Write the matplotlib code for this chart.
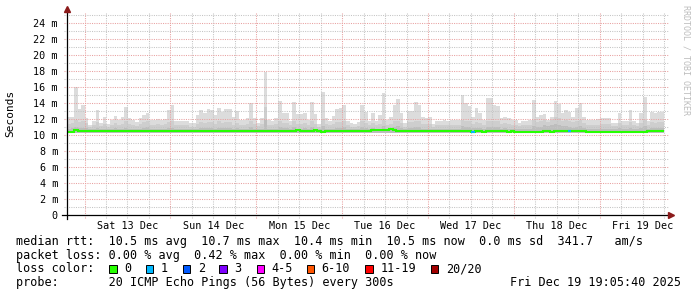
import matplotlib
matplotlib.use("Agg")
import matplotlib.pyplot as plt
import matplotlib.dates as mdates
from matplotlib.patches import Rectangle
import numpy as np
import pandas as pd

# ---------------- data ----------------
start = pd.Timestamp("2025-12-12 19:05:40")
end = pd.Timestamp("2025-12-19 19:05:40")

smoke_floor = 10.3  # ms

smoke_max = [
    12.3, 12.3, 16.0, 13.2, 13.8, 12.1, 11.3, 11.8, 13.1, 11.5,
    12.3, 11.4, 11.9, 12.4, 11.9, 12.2, 13.5, 12.1, 11.9, 11.6,
    12.1, 12.5, 12.8, 11.9, 11.9, 12.0, 11.9, 12.0, 13.1, 13.75,
    11.8, 11.8, 11.8, 11.8, 11.5, 11.5, 12.5, 13.1, 12.7, 13.2,
    13.1, 12.5, 13.4, 12.9, 13.3, 13.3, 12.3, 13.0, 11.9, 11.9,
    12.1, 14.0, 12.1, 11.5, 12.1, 17.9, 11.9, 11.8, 12.1, 14.2,
    12.8, 12.8, 11.8, 14.1, 12.6, 12.6, 12.8, 11.9, 14.1, 12.6,
    11.4, 15.4, 12.1, 11.7, 12.4, 13.2, 13.4, 13.7, 11.7, 11.5,
    11.4, 11.6, 13.7, 12.9, 11.7, 12.8, 11.7, 12.5, 15.3, 11.9,
    12.3, 13.8, 14.5, 12.7, 11.5, 13.0, 13.0, 14.1, 13.8, 12.3,
    12.1, 12.2, 11.4, 11.7, 11.7, 11.9, 11.7, 11.9, 11.9, 11.9,
    15.0, 14.0, 13.6, 12.3, 13.4, 12.8, 11.9, 14.6, 14.6, 13.8,
    13.6, 12.1, 12.3, 12.1, 11.9, 11.9, 11.5, 11.8, 11.8, 11.9,
    14.4, 12.3, 12.5, 12.6, 11.9, 12.3, 14.3, 13.9, 12.7, 13.1,
    12.9, 12.3, 13.4, 14.0, 12.3, 11.9, 11.9, 11.9, 12.0, 12.1,
    12.1, 12.1, 11.5, 11.5, 12.7, 11.7, 11.7, 13.1, 11.7, 11.5,
    12.7, 14.7, 11.7, 12.9, 12.7, 12.9, 12.9,
]

smoke_hi = [
    11.4, 11.5, 11.9, 11.6, 11.7, 11.5, 11.0, 11.2, 11.6, 11.1,
    11.4, 11.0, 11.3, 11.5, 11.3, 11.4, 11.7, 11.4, 11.3, 11.1,
    11.4, 11.6, 11.7, 11.3, 11.3, 11.4, 11.3, 11.4, 11.6, 11.7,
    11.2, 11.3, 11.2, 11.2, 11.0, 11.0, 11.4, 11.6, 11.5, 11.6,
    11.6, 11.4, 11.7, 11.5, 11.6, 11.6, 11.3, 11.5, 11.2, 11.2,
    11.4, 11.8, 11.4, 11.1, 11.4, 13.5, 11.3, 11.2, 11.4, 11.8,
    11.5, 11.5, 11.2, 11.7, 11.4, 11.4, 11.5, 11.2, 11.7, 11.4,
    11.0, 12.0, 11.4, 11.2, 11.4, 11.6, 11.6, 11.7, 11.2, 11.0,
    11.0, 11.1, 11.7, 11.5, 11.2, 11.5, 11.2, 11.4, 11.9, 11.3,
    11.4, 11.7, 11.8, 11.5, 11.0, 11.6, 11.6, 11.8, 11.7, 11.4,
    11.4, 11.4, 11.0, 11.2, 11.2, 11.3, 11.2, 11.3, 11.3, 11.3,
    11.9, 11.8, 11.7, 11.4, 11.6, 11.5, 11.3, 11.8, 11.8, 11.7,
    11.7, 11.4, 11.5, 11.4, 11.3, 11.3, 11.1, 11.2, 11.2, 11.3,
    11.9, 11.6, 11.7, 11.9, 11.6, 11.9, 12.2, 12.1, 11.8, 11.9,
    11.8, 11.6, 11.8, 11.9, 11.5, 11.3, 11.3, 11.3, 11.3, 11.4,
    11.4, 11.4, 11.1, 11.1, 11.5, 11.2, 11.2, 11.6, 11.2, 11.1,
    11.5, 11.9, 11.2, 11.6, 11.5, 11.6, 11.6,
]

smoke_core = [
    10.8, 10.9, 11.0, 10.9, 10.9, 10.9, 10.7, 10.8, 10.9, 10.7,
    10.8, 10.7, 10.8, 10.9, 10.8, 10.8, 10.9, 10.8, 10.8, 10.7,
    10.8, 10.9, 11.0, 10.8, 10.8, 10.8, 10.8, 10.8, 10.9, 10.9,
    10.7, 10.8, 10.7, 10.7, 10.7, 10.7, 10.8, 10.9, 10.9, 10.9,
    10.9, 10.8, 10.9, 10.9, 10.9, 10.9, 10.8, 10.9, 10.7, 10.7,
    10.8, 11.0, 10.8, 10.7, 10.8, 11.9, 10.8, 10.7, 10.8, 11.0,
    10.9, 10.9, 10.7, 11.0, 10.8, 10.8, 10.9, 10.7, 11.0, 10.8,
    10.7, 11.1, 10.8, 10.7, 10.8, 10.9, 10.9, 11.0, 10.7, 10.7,
    10.7, 10.7, 11.0, 10.9, 10.7, 10.9, 10.7, 10.8, 11.1, 10.8,
    10.8, 11.0, 11.1, 10.9, 10.7, 10.9, 10.9, 11.0, 11.0, 10.8,
    10.8, 10.8, 10.7, 10.7, 10.7, 10.8, 10.7, 10.8, 10.8, 10.8,
    11.1, 11.0, 11.0, 10.9, 10.9, 10.9, 10.8, 11.0, 11.0, 11.0,
    11.0, 10.8, 10.9, 10.8, 10.8, 10.8, 10.7, 10.8, 10.8, 10.8,
    11.1, 11.0, 11.0, 11.2, 11.1, 11.3, 11.4, 11.3, 11.1, 11.1,
    11.0, 10.9, 11.0, 11.1, 10.9, 10.8, 10.8, 10.8, 10.8, 10.8,
    10.8, 10.8, 10.7, 10.7, 10.9, 10.8, 10.8, 10.9, 10.8, 10.7,
    10.9, 11.1, 10.8, 10.9, 10.9, 10.9, 10.9,
]

median_rtt = [
    10.4, 10.4, 10.6, 10.5, 10.5, 10.5, 10.5, 10.5, 10.5, 10.5,
    10.5, 10.5, 10.5, 10.5, 10.5, 10.5, 10.5, 10.5, 10.5, 10.5,
    10.5, 10.5, 10.5, 10.5, 10.5, 10.5, 10.5, 10.5, 10.5, 10.5,
    10.5, 10.5, 10.5, 10.5, 10.5, 10.5, 10.5, 10.5, 10.5, 10.5,
    10.5, 10.5, 10.5, 10.5, 10.5, 10.5, 10.5, 10.5, 10.5, 10.5,
    10.5, 10.5, 10.5, 10.5, 10.5, 10.5, 10.5, 10.5, 10.5, 10.5,
    10.5, 10.5, 10.5, 10.5, 10.6, 10.5, 10.5, 10.5, 10.5, 10.6,
    10.5, 10.4, 10.5, 10.5, 10.5, 10.5, 10.5, 10.5, 10.5, 10.5,
    10.5, 10.5, 10.5, 10.5, 10.5, 10.6, 10.6, 10.6, 10.6, 10.6,
    10.7, 10.6, 10.5, 10.5, 10.5, 10.5, 10.5, 10.5, 10.5, 10.5,
    10.5, 10.5, 10.5, 10.5, 10.5, 10.5, 10.5, 10.5, 10.5, 10.5,
    10.5, 10.5, 10.5, 10.4, 10.5, 10.5, 10.4, 10.5, 10.5, 10.5,
    10.5, 10.5, 10.5, 10.4, 10.5, 10.4, 10.4, 10.4, 10.4, 10.4,
    10.4, 10.4, 10.4, 10.5, 10.5, 10.4, 10.5, 10.5, 10.5, 10.5,
    10.5, 10.5, 10.5, 10.5, 10.5, 10.4, 10.4, 10.4, 10.4, 10.4,
    10.4, 10.4, 10.4, 10.4, 10.4, 10.4, 10.4, 10.4, 10.4, 10.4,
    10.4, 10.4, 10.5, 10.5, 10.5, 10.5, 10.5,
]

loss_bins = [113, 140]
loss_counts = [1, 1]

loss_labels = ["0", "1", "2", "3", "4-5", "6-10", "11-19", "20/20"]
loss_colors = ["#26ff00", "#00b8ff", "#0059ff", "#7e00ff", "#ff00ff",
               "#ff5500", "#ff0000", "#a10000"]
loss_upper = [0, 1, 2, 3, 5, 10, 19, 20]

y_ticks = [0, 2, 4, 6, 8, 10, 12, 14, 16, 18, 20, 22, 24]

line_rtt = "median rtt:  10.5 ms avg  10.7 ms max  10.4 ms min  10.5 ms now  0.0 ms sd  341.7   am/s"
line_loss = "packet loss: 0.00 % avg  0.42 % max  0.00 % min  0.00 % now"
line_probe = "probe:       20 ICMP Echo Pings (56 Bytes) every 300s"
stamp = "Fri Dec 19 19:05:40 2025"

# ---------------- figure ----------------
W, H = 697, 297
MONO = "DejaVu Sans Mono"
plt.rcParams["font.family"] = MONO

fig = plt.figure(figsize=(W / 100, H / 100), dpi=100)
fig.patch.set_facecolor("white")
x0, x1, yb, yt = 67, 668, 215, 13
ax = fig.add_axes([x0 / W, 1 - yb / H, (x1 - x0) / W, (yb - yt) / H])
ax.set_facecolor("white")

edges_dt = pd.date_range(start, periods=len(smoke_max) + 1, freq="1h")
edges = mdates.date2num(edges_dt.to_pydatetime())
xmin = mdates.date2num(start.to_pydatetime())
xmax = mdates.date2num(end.to_pydatetime())
ymax = (yb - yt) / 8.0
ax.set_xlim(xmin, xmax)
ax.set_ylim(0, ymax)

# smoke
ax.stairs(smoke_max, edges, baseline=smoke_floor, fill=True, color="#dcdcdc", lw=0, zorder=1)
ax.stairs(smoke_hi, edges, baseline=smoke_floor, fill=True, color="#cecece", lw=0, zorder=1.1)
ax.stairs(smoke_core, edges, baseline=smoke_floor, fill=True, color="#bdbdbd", lw=0, zorder=1.2)

# grid
px_per_day = (x1 - x0) / 7.0
ext_x = 3.5 / px_per_day
ext_y = 3.0 / 8.0
grid_times = pd.date_range("2025-12-13 00:00", "2025-12-19 18:00", freq="6h")
for t in grid_times:
    xt = mdates.date2num(t.to_pydatetime())
    col = "#e8a0a0" if t.hour == 0 else "#c4c4c4"
    ax.plot([xt, xt], [-ext_y, ymax], color=col, lw=0.75, ls=(0, (1, 1.2)),
            clip_on=False, zorder=2)
for v in range(1, 26):
    col = "#e8a0a0" if v % 2 == 0 else "#c4c4c4"
    ax.plot([xmin - ext_x, xmax], [v, v], color=col, lw=0.75, ls=(0, (1, 1.2)),
            clip_on=False, zorder=2)

# median line
ax.stairs(median_rtt, edges, baseline=None, color=loss_colors[0], lw=1.5, zorder=3)
for b, c in zip(loss_bins, loss_counts):
    ci = next(i for i, u in enumerate(loss_upper) if c <= u)
    ax.hlines(median_rtt[b], edges[b], edges[b + 1], color=loss_colors[ci], lw=1.5, zorder=3.5)

# axes lines
for s in ax.spines.values():
    s.set_visible(False)
ax.plot([xmin - 5 / px_per_day, xmax + 1 / px_per_day], [0, 0], color="black", lw=0.9,
        clip_on=False, zorder=4)
ax.plot([xmin, xmin], [-4 / 8.0, ymax + 0.3], color="black", lw=0.9, clip_on=False, zorder=4)
arrow_col = "#8b1a1a"
ax.plot([xmax + 3 / px_per_day], [0], marker=">", ms=4.5, color=arrow_col, clip_on=False, zorder=5)
ax.plot([xmin], [ymax + 0.55], marker="^", ms=4.5, color=arrow_col, clip_on=False, zorder=5)

# ticks
ax.set_yticks(y_ticks)
ax.set_yticklabels([("%d m" % v) if v else "0" for v in y_ticks])
label_times = pd.date_range("2025-12-13 12:00", "2025-12-19 12:00", freq="1D")
ax.set_xticks(mdates.date2num(label_times.to_pydatetime()))
ax.set_xticklabels([t.strftime("%a %d %b") for t in label_times])
ax.tick_params(axis="y", length=0, pad=6.5, labelsize=7.3, labelcolor="black")
ax.tick_params(axis="x", length=0, pad=4.5, labelsize=7.3, labelcolor="black")

# labels
fig.text(10 / W, 1 - 113 / H, "Seconds", rotation=90, ha="center", va="center", fontsize=8)
fig.text(686 / W, 1 - 5 / H, "RRDTOOL / TOBI OETIKER", rotation=270, ha="center", va="top",
         fontsize=6, color="#bdbdbd")

fs = 8.5
fig.text(16 / W, 1 - 241.5 / H, line_rtt, ha="left", va="center", fontsize=fs)
fig.text(16 / W, 1 - 255 / H, line_loss, ha="left", va="center", fontsize=fs)
fig.text(16 / W, 1 - 269 / H, "loss color:", ha="left", va="center", fontsize=fs)
fig.text(16 / W, 1 - 282.7 / H, line_probe, ha="left", va="center", fontsize=fs)
fig.text(681 / W, 1 - 282.7 / H, stamp, ha="right", va="center", fontsize=fs)

box_x = [109, 145.7, 182.7, 219, 256.7, 306.7, 365.3, 430.7]
for bx, lab, col in zip(box_x, loss_labels, loss_colors):
    fig.add_artist(Rectangle((bx / W, 1 - 272.7 / H), 7.5 / W, 7.5 / H, transform=fig.transFigure,
                             facecolor=col, edgecolor="black", lw=0.7))
    fig.text((bx + 15) / W, 1 - 269 / H, lab, ha="left", va="center", fontsize=fs)

fig.savefig("out.png", dpi=100, facecolor="white")
